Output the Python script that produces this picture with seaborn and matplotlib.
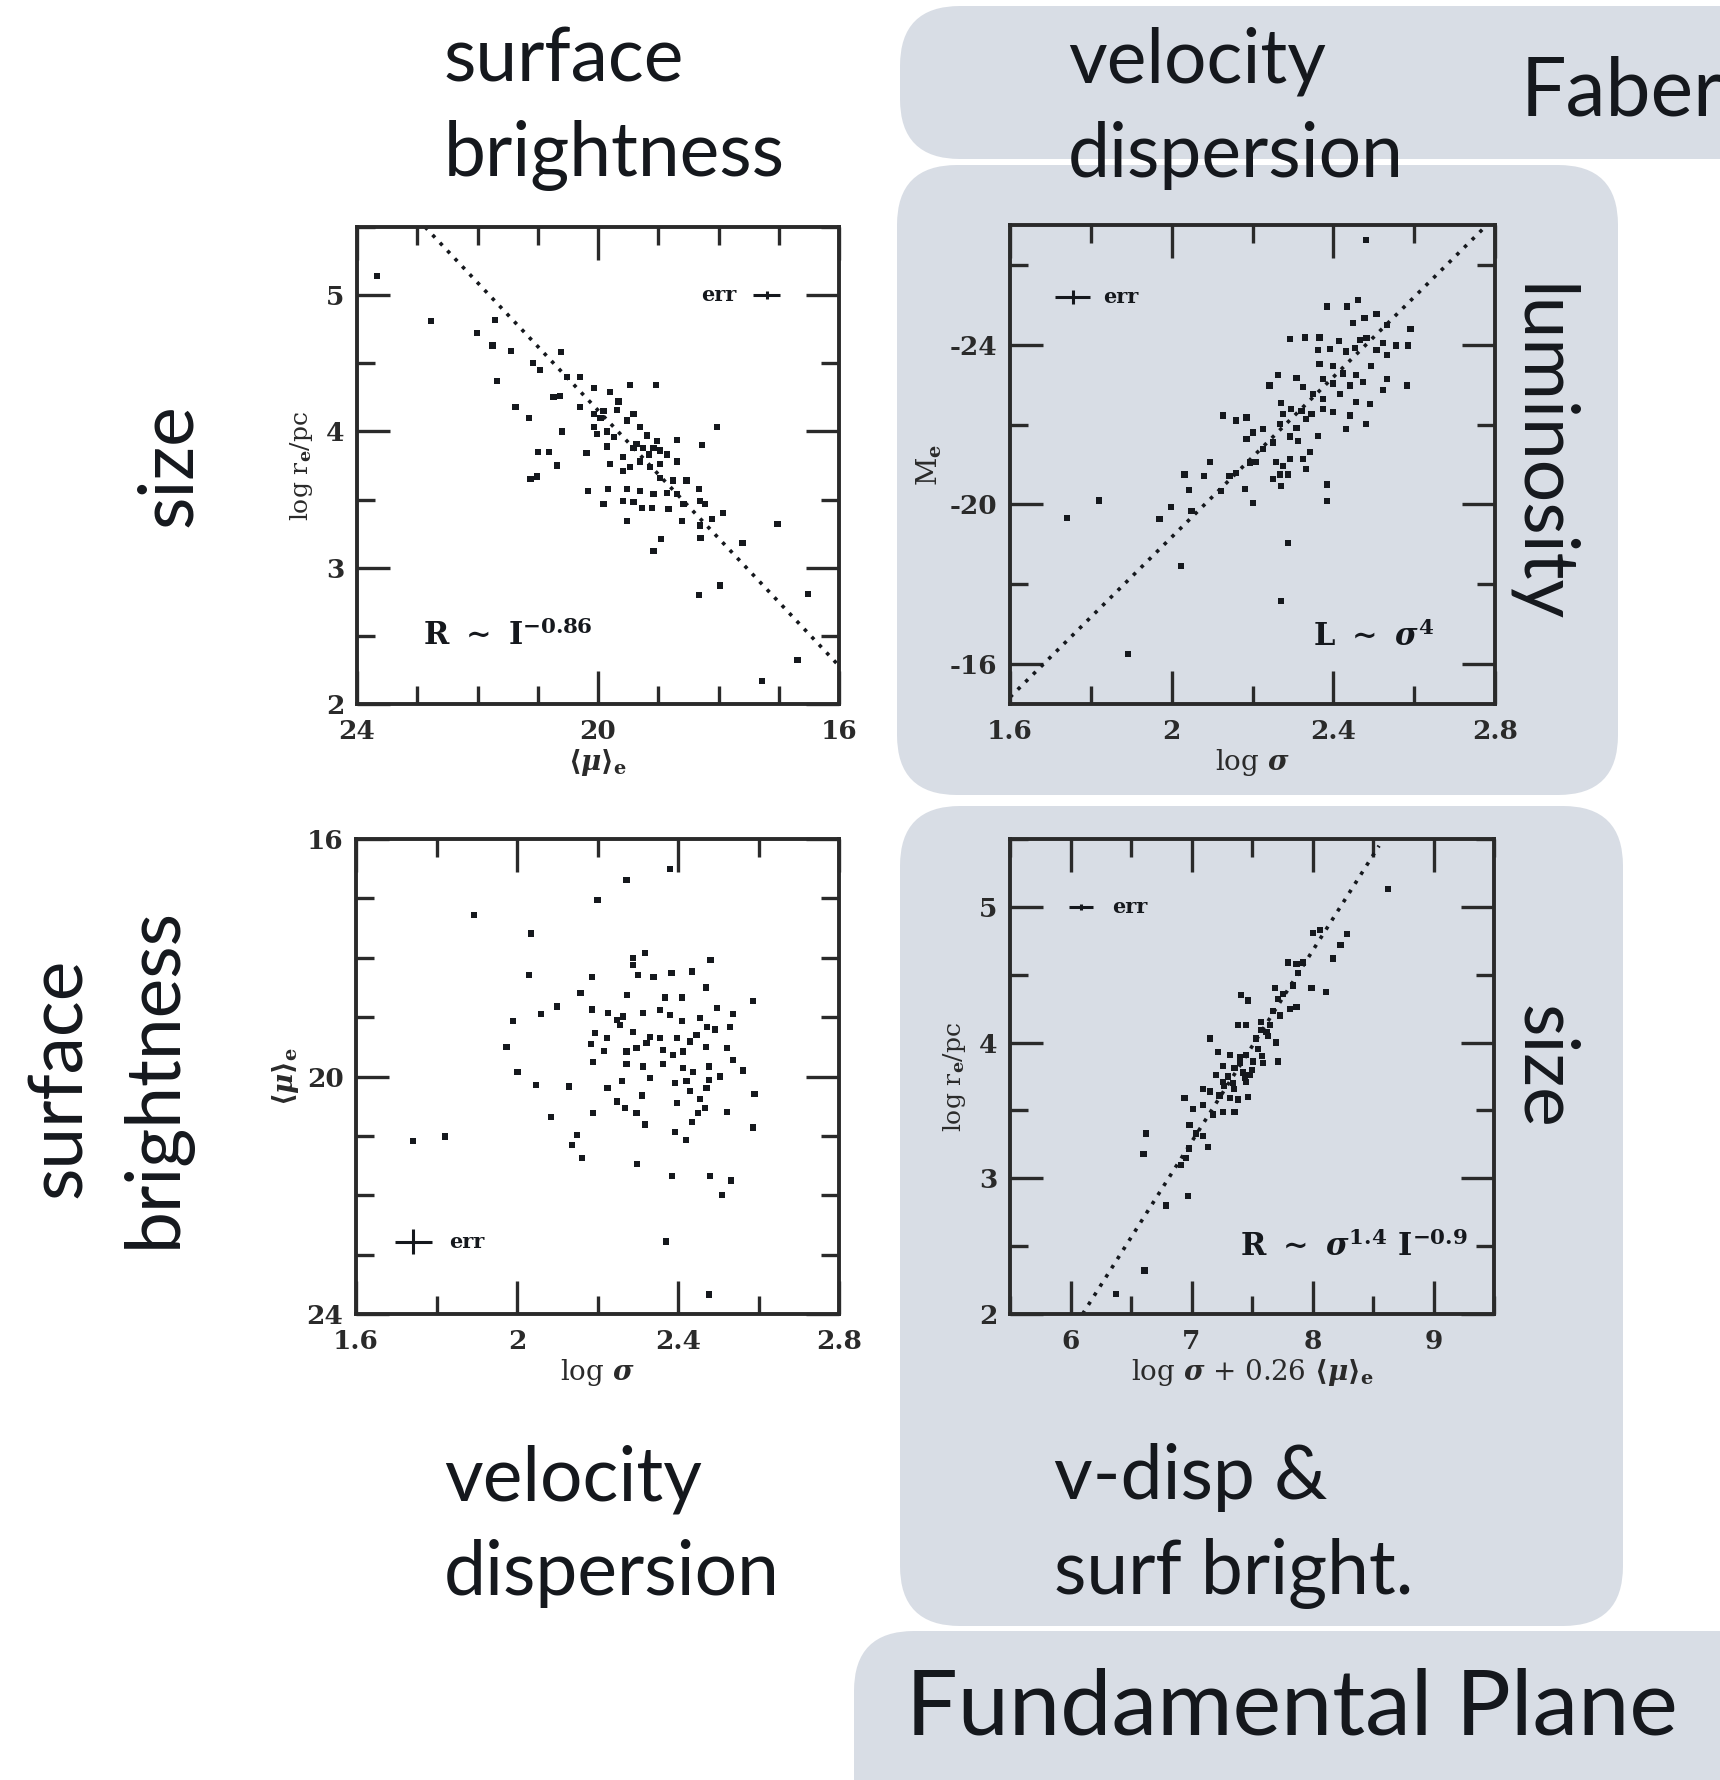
import matplotlib
matplotlib.use("Agg")
import matplotlib.pyplot as plt
import numpy as np
import pandas as pd
import seaborn as sns
from matplotlib.patches import FancyBboxPatch
from matplotlib.ticker import MultipleLocator, FuncFormatter

sns.set_style("ticks")
plt.rcParams['font.family'] = ['DejaVu Serif']
plt.rcParams['font.weight'] = 'bold'
plt.rcParams['mathtext.fontset'] = 'dejavuserif'

# ---------------- data ----------------
# top left: size vs surface brightness
tl_mu = [23.67, 22.77, 21.71, 22.01, 21.75, 21.45, 20.61, 21.68, 21.08, 20.96,
         20.30, 20.52, 20.07, 19.80, 19.47, 19.04, 20.74, 20.63, 21.37, 21.15,
         20.30, 20.07, 19.91, 19.69, 19.41, 19.52, 20.60, 20.02, 19.85, 19.74,
         19.30, 18.03, 18.69, 18.28, 20.99, 20.81, 20.19, 20.68, 19.85, 19.58,
         19.36, 19.25, 19.08, 18.97, 18.86, 19.47, 19.30, 19.14, 18.97, 18.69,
         19.80, 19.58, 21.12, 21.01, 18.97, 18.75, 18.53, 20.16, 19.83, 19.52,
         19.30, 19.08, 18.86, 18.69, 18.33, 19.91, 19.58, 19.41, 19.27, 19.11,
         18.83, 18.58, 18.31, 18.22, 19.52, 18.61, 18.31, 18.11, 17.93, 18.30,
         18.95, 19.08, 17.60, 17.02, 17.98, 18.32, 16.52, 16.69, 17.28,
         20.07, 19.96, 19.66, 19.19, 19.02, 19.41, 19.16]
tl_logr = [5.14, 4.81, 4.82, 4.72, 4.63, 4.59, 4.58, 4.37, 4.50, 4.45,
           4.40, 4.40, 4.32, 4.29, 4.34, 4.34, 4.25, 4.26, 4.18, 4.10,
           4.18, 4.13, 4.15, 4.16, 4.13, 4.08, 4.00, 3.98, 4.00, 3.96,
           4.03, 4.03, 3.94, 3.90, 3.85, 3.85, 3.84, 3.75, 3.89, 3.81,
           3.91, 3.88, 3.88, 3.86, 3.83, 3.74, 3.78, 3.74, 3.76, 3.78,
           3.76, 3.71, 3.65, 3.67, 3.66, 3.64, 3.64, 3.56, 3.58, 3.58,
           3.56, 3.54, 3.55, 3.54, 3.58, 3.47, 3.49, 3.48, 3.44, 3.44,
           3.43, 3.47, 3.49, 3.47, 3.34, 3.34, 3.31, 3.36, 3.40, 3.22,
           3.21, 3.12, 3.18, 3.32, 2.87, 2.80, 2.81, 2.32, 2.17,
           4.03, 4.10, 4.22, 3.97, 3.93, 3.88, 3.83]
tl_fit_x = [22.87, 16.0]
tl_fit_y = [5.5, 2.28]

# top right: Faber-Jackson
tr_logsig = [2.480, 2.385, 2.434, 2.461, 2.507, 2.449, 2.477, 2.532, 2.591, 2.292,
             2.329, 2.366, 2.414, 2.466, 2.482, 2.523, 2.556, 2.585, 2.362, 2.391,
             2.432, 2.453, 2.507, 2.532, 2.366, 2.400, 2.424, 2.494, 2.457, 2.532,
             2.583, 2.263, 2.242, 2.309, 2.325, 2.375, 2.400, 2.441, 2.474, 2.523,
             2.350, 2.375, 2.416, 2.457, 2.490, 2.271, 2.296, 2.321, 2.346, 2.375,
             2.400, 2.441, 2.480, 2.432, 2.127, 2.185, 2.160, 2.276, 2.268, 2.309,
             2.333, 2.226, 2.201, 2.185, 2.251, 2.292, 2.313, 2.362, 2.342, 2.226,
             2.209, 2.193, 2.259, 2.276, 2.292, 2.325, 2.333, 2.268, 2.251, 2.271,
             2.288, 2.160, 2.143, 2.094, 2.032, 2.080, 2.043, 2.123, 2.181, 2.201,
             2.385, 2.385, 1.999, 1.970, 2.049, 1.821, 1.741, 2.024, 2.288, 2.270,
             1.892]
tr_mag = [-26.62, -24.96, -24.96, -25.13, -24.77, -24.54, -24.67, -24.50, -24.40, -24.14,
          -24.18, -24.18, -24.09, -24.12, -24.16, -24.04, -23.98, -23.98, -23.87, -23.89,
          -23.83, -23.91, -23.87, -23.74, -23.51, -23.47, -23.28, -23.47, -23.24, -23.15,
          -22.98, -23.24, -22.98, -23.17, -22.94, -23.15, -23.03, -22.98, -23.07, -22.86,
          -22.77, -22.65, -22.77, -22.56, -22.52, -22.55, -22.39, -22.35, -22.27, -22.39,
          -22.31, -22.23, -22.01, -21.89, -22.23, -22.18, -22.10, -22.27, -22.01, -21.91,
          -22.14, -21.89, -21.80, -21.64, -21.55, -21.70, -21.59, -21.72, -21.32, -21.38,
          -21.06, -21.05, -21.06, -20.96, -21.13, -21.13, -20.89, -20.75, -20.63, -20.47,
          -20.75, -20.79, -20.71, -21.06, -20.75, -20.71, -20.37, -20.33, -20.39, -20.04,
          -20.50, -20.08, -19.93, -19.63, -19.83, -20.10, -19.66, -18.45, -19.03, -17.58,
          -16.25]
tr_fit_x = [1.60, 2.78]
tr_fit_y = [-15.17, -27.0]

# bottom left: surface brightness vs velocity dispersion
bl_logsig = [2.272, 2.200, 1.893, 2.034, 2.380, 2.289, 2.318, 2.289, 2.301, 2.339,
             2.384, 2.434, 2.481, 2.030, 2.186, 2.469, 2.158, 2.274, 2.368, 2.409,
             2.587, 2.100, 2.186, 2.059, 2.227, 2.248, 2.264, 2.314, 2.355, 2.380,
             2.409, 2.455, 2.496, 2.537, 2.256, 1.991, 2.472, 2.492, 2.529, 2.194,
             2.223, 2.289, 2.330, 2.355, 2.397, 2.430, 2.446, 1.974, 2.183, 2.216,
             2.272, 2.297, 2.322, 2.363, 2.388, 2.413, 2.470, 2.522, 2.537, 2.188,
             2.272, 2.314, 2.363, 2.413, 2.438, 2.477, 2.561, 2.001, 2.047, 2.130,
             2.225, 2.260, 2.330, 2.392, 2.421, 2.477, 2.504, 2.471, 2.310, 2.430,
             2.590, 2.248, 2.268, 2.398, 2.455, 2.467, 2.450, 2.522, 2.189, 2.297,
             2.084, 2.434, 2.318, 2.586, 2.150, 2.392, 2.419, 2.137, 2.161, 1.821,
             1.741, 2.299, 2.386, 2.480, 2.531, 2.509, 2.370, 2.477]
bl_mu = [16.69, 17.03, 17.28, 17.59, 16.50, 18.01, 17.92, 18.12, 18.29, 18.32,
         18.26, 18.23, 18.04, 18.29, 18.33, 18.50, 18.60, 18.63, 18.67, 18.67,
         18.73, 18.82, 18.87, 18.95, 18.93, 19.05, 18.99, 18.93, 18.88, 18.96,
         19.07, 19.02, 18.85, 18.95, 19.13, 19.06, 19.16, 19.21, 19.16, 19.27,
         19.35, 19.25, 19.33, 19.35, 19.35, 19.41, 19.30, 19.50, 19.45, 19.57,
         19.58, 19.52, 19.44, 19.55, 19.64, 19.58, 19.50, 19.52, 19.72, 19.76,
         19.79, 19.83, 19.79, 19.86, 19.92, 19.83, 19.90, 19.92, 20.14, 20.17,
         20.20, 20.08, 20.03, 20.11, 20.08, 20.06, 20.00, 20.20, 20.32, 20.25,
         20.30, 20.42, 20.53, 20.45, 20.38, 20.53, 20.62, 20.60, 20.61, 20.62,
         20.68, 20.76, 20.81, 20.86, 20.99, 20.93, 21.07, 21.16, 21.37, 21.01,
         21.09, 21.47, 21.68, 21.68, 21.75, 22.00, 22.78, 23.67]

# bottom right: fundamental plane
br_comb = [8.626, 8.005, 8.060, 8.286, 8.231, 8.170, 7.798, 7.867, 7.922, 7.880,
           7.839, 7.991, 8.110, 7.688, 7.412, 7.467, 7.712, 7.757, 7.812, 7.867,
           7.674, 7.729, 7.384, 7.453, 7.577, 7.646, 7.577, 7.632, 7.536, 7.701,
           7.150, 7.219, 7.315, 7.398, 7.453, 7.508, 7.591, 7.715, 7.260, 7.356,
           7.425, 7.480, 7.205, 7.260, 7.343, 7.453, 7.094, 7.150, 7.232, 7.315,
           7.384, 7.467, 6.943, 7.012, 7.094, 7.177, 7.260, 7.356, 6.984, 7.039,
           7.094, 7.136, 6.979, 6.626, 6.603, 6.957, 6.915, 6.970, 6.791, 6.612,
           6.377, 7.30, 7.40, 7.55, 7.62, 7.35, 7.50, 7.27, 7.44, 7.58]
br_logr = [5.13, 4.81, 4.83, 4.80, 4.72, 4.62, 4.59, 4.58, 4.59, 4.51,
           4.42, 4.40, 4.37, 4.40, 4.35, 4.31, 4.32, 4.36, 4.25, 4.26,
           4.23, 4.20, 4.13, 4.13, 4.15, 4.13, 4.09, 4.05, 4.03, 4.00,
           4.03, 3.93, 3.91, 3.89, 3.91, 3.86, 3.85, 3.86, 3.83, 3.81,
           3.78, 3.76, 3.76, 3.71, 3.70, 3.71, 3.66, 3.64, 3.61, 3.59,
           3.58, 3.60, 3.59, 3.51, 3.54, 3.47, 3.49, 3.49, 3.39, 3.33,
           3.31, 3.23, 3.22, 3.33, 3.18, 3.15, 3.10, 2.87, 2.80, 2.32,
           2.15, 3.75, 3.85, 3.95, 4.08, 3.66, 3.80, 3.68, 3.74, 3.90]
br_fit_x = [6.1, 8.55]
br_fit_y = [2.0, 5.45]

# error crosses: (x, y, xerr, yerr, label x)
tl_err = (17.20, 5.0, 0.22, 0.03, 18.0)
tr_err = (1.755, -25.19, 0.043, 0.17, 1.875)
bl_err = (1.742, 22.78, 0.046, 0.21, 1.875)
br_err = (6.09, 5.0, 0.10, 0.02, 6.49)

# ---------------- figure ----------------
W, H = 1720, 1780
fig = plt.figure(figsize=(W / 100, H / 100), dpi=100)
fig.patch.set_facecolor("white")
box_color = "#d8dde5"
ink = "#15181d"
frame = "#2a2a2a"
slide_font = ['Lato', 'DejaVu Sans']


def add_box(x0, y0, x1, y1):
    # pixel box, measured from the top left corner of the slide
    p = FancyBboxPatch((x0 / 100, (H - y1) / 100), (x1 - x0) / 100, (y1 - y0) / 100,
                       boxstyle="round,pad=0,rounding_size=0.6",
                       transform=fig.dpi_scale_trans, facecolor=box_color,
                       edgecolor="none", zorder=-5)
    fig.add_artist(p)


add_box(900, 6, 1800, 159)
add_box(897, 165, 1618, 795)
add_box(900, 806, 1623, 1626)
add_box(854, 1631, 1800, 1860)


def slide_text(x, y, s, size=54, rot=0, ha="left", va="center", ls=1.45):
    fig.text(x / W, 1 - y / H, s, fontsize=size, family=slide_font, color=ink,
             rotation=rot, ha=ha, va=va, linespacing=ls, fontweight="normal")


slide_text(444, 108, "surface\nbrightness")
slide_text(1068, 108, "velocity\ndispersion")
slide_text(1521, 93, "Faber-Jackson", size=58)
slide_text(170, 465, "size", rot=90, ha="center")
slide_text(1540, 454, "luminosity", rot=-90, ha="center")
slide_text(108, 1078, "surface\nbrightness", rot=90, ha="center")
slide_text(1544, 1067, "size", rot=-90, ha="center")
slide_text(444, 1526, "velocity\ndispersion")
slide_text(1054, 1526, "v-disp &\nsurf bright.")
slide_text(906, 1709, "Fundamental Plane", size=66)


def panel(px0, py0, px1, py1, face):
    ax = fig.add_axes([px0 / W, 1 - py1 / H, (px1 - px0) / W, (py1 - py0) / H])
    ax.set_facecolor(face)
    return ax


def style(ax, xlim, ylim, xmaj, xmin, ymaj, ymin):
    ax.set_xlim(*xlim)
    ax.set_ylim(*ylim)
    ax.xaxis.set_major_locator(MultipleLocator(xmaj))
    ax.xaxis.set_minor_locator(MultipleLocator(xmin))
    ax.yaxis.set_major_locator(MultipleLocator(ymaj))
    ax.yaxis.set_minor_locator(MultipleLocator(ymin))
    fmt = FuncFormatter(lambda v, p: "%g" % round(v, 3))
    ax.xaxis.set_major_formatter(fmt)
    ax.yaxis.set_major_formatter(fmt)
    ax.tick_params(which="both", direction="in", top=True, right=True,
                   width=2.4, color=frame, labelcolor=frame)
    ax.tick_params(which="major", length=24, labelsize=19)
    ax.tick_params(which="minor", length=13)
    ax.tick_params(axis="x", which="major", pad=11)
    ax.tick_params(axis="y", which="major", pad=9)
    for s in ax.spines.values():
        s.set_linewidth(2.8)
        s.set_color(frame)


def draw(ax, x, y, fx, fy, err):
    df = pd.DataFrame({"x": x, "y": y})
    sns.scatterplot(data=df, x="x", y="y", ax=ax, marker="s", s=20,
                    color=ink, edgecolor="none", linewidth=0, zorder=3)
    if fx is not None:
        fit = pd.DataFrame({"x": fx, "y": fy})
        sns.lineplot(data=fit, x="x", y="y", ax=ax, color=ink, linewidth=2.6,
                     linestyle=(0, (1.0, 2.0)), sort=False)
    ex, ey, dx, dy, tx = err
    ax.errorbar([ex], [ey], xerr=[dx], yerr=[dy], fmt="none", ecolor=ink,
                elinewidth=2.2, capsize=0)
    ax.text(tx, ey, "err", fontsize=15, ha="center", va="center", color=ink)


# top left
ax1 = panel(357, 227, 839, 704, "white")
draw(ax1, tl_mu, tl_logr, tl_fit_x, tl_fit_y, tl_err)
style(ax1, (24, 16), (2, 5.5), 4, 1, 1, 0.5)
ax1.text(22.9, 2.5, r"R $\sim$ I$^{-0.86}$", fontsize=22, va="center", color=ink)
ax1.set_xlabel(r"$\langle\mu\rangle_{\mathbf{e}}$", fontsize=20, labelpad=2, color=frame)
ax1.set_ylabel(r"log r$_{\mathbf{e}}$/pc", fontsize=18, labelpad=8, color=frame)

# top right
ax2 = panel(1010, 225, 1495, 704, "none")
draw(ax2, tr_logsig, tr_mag, tr_fit_x, tr_fit_y, tr_err)
style(ax2, (1.6, 2.8), (-15, -27), 0.4, 0.2, 4, 2)
ax2.text(2.35, -16.67, r"L $\sim$ $\sigma^{4}$", fontsize=22, va="center", color=ink)
ax2.set_xlabel(r"log $\sigma$", fontsize=20, labelpad=2, color=frame)
ax2.set_ylabel(r"M$_{\mathbf{e}}$", fontsize=20, labelpad=4, color=frame)

# bottom left
ax3 = panel(356, 839, 839, 1314, "white")
draw(ax3, bl_logsig, bl_mu, None, None, bl_err)
style(ax3, (1.6, 2.8), (24, 16), 0.4, 0.2, 4, 1)
ax3.set_xlabel(r"log $\sigma$", fontsize=20, labelpad=2, color=frame)
ax3.set_ylabel(r"$\langle\mu\rangle_{\mathbf{e}}$", fontsize=20, labelpad=4, color=frame)

# bottom right
ax4 = panel(1010, 839, 1494, 1314, "none")
draw(ax4, br_comb, br_logr, br_fit_x, br_fit_y, br_err)
style(ax4, (5.5, 9.5), (2, 5.5), 1, 0.5, 1, 0.5)
ax4.text(7.40, 2.49, r"R $\sim$ $\sigma^{1.4}$ I$^{-0.9}$", fontsize=22, va="center", color=ink)
ax4.set_xlabel(r"log $\sigma$ + 0.26 $\langle\mu\rangle_{\mathbf{e}}$", fontsize=20,
               labelpad=2, color=frame)
ax4.set_ylabel(r"log r$_{\mathbf{e}}$/pc", fontsize=18, labelpad=8, color=frame)

fig.savefig("out.png", dpi=100)
